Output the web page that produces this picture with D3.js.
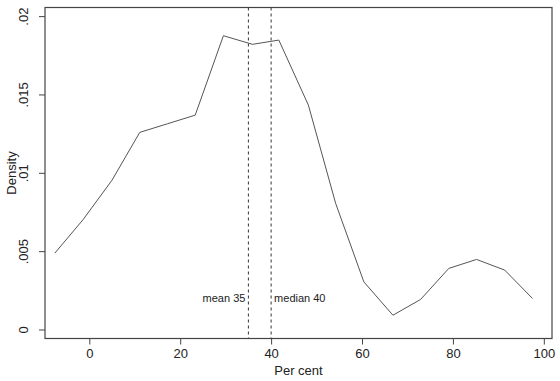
<!DOCTYPE html>
<html><head><meta charset="utf-8">
<script src="https://cdn.jsdelivr.net/npm/d3@7"></script>
<style>body{margin:0;background:#fff}svg{display:block}text{font-family:"Liberation Sans",Arial,sans-serif;fill:#222}</style>
</head><body><svg id="c" width="560" height="381"></svg>
<script>
const xValues = [-7.6, -1.4, 5.0, 11.1, 17.2, 23.3, 29.5, 35.9, 41.7, 48.2, 54.2, 60.4, 66.8, 72.9, 79.1, 85.2, 91.4, 97.5];
const densityValues = [0.00487, 0.0070, 0.00953, 0.01258, 0.01313, 0.01368, 0.01875, 0.0182, 0.01847, 0.01432, 0.00805, 0.00304, 0.00091, 0.00192, 0.0039, 0.00447, 0.00379, 0.00198];
const xTicks = [0, 20, 40, 60, 80, 100];
const yTicks = [0, 0.005, 0.01, 0.015, 0.02];
const yTickLabels = ["0", ".005", ".01", ".015", ".02"];
const refLines = [{value: 35, label: "mean 35", side: "left"}, {value: 40, label: "median 40", side: "right"}];

const svg = d3.select("#c");
const L = 45, R = 552, T = 7.5, B = 338.5;
const x = d3.scaleLinear().domain([-9.75, 101.8]).range([L, R]);
const y = d3.scaleLinear().domain([-0.000575, 0.02055]).range([B, T]);

// box
svg.append("rect").attr("x", L).attr("y", T).attr("width", R - L).attr("height", B - T)
  .attr("fill", "none").attr("stroke", "#444").attr("stroke-width", 1.2);

// x axis
const xa = svg.append("g").attr("transform", `translate(0,${B})`)
  .call(d3.axisBottom(x).tickValues(xTicks).tickSize(6).tickPadding(4).tickFormat(d3.format("d")));
xa.select(".domain").remove();
xa.selectAll("line").attr("stroke", "#444");
xa.selectAll("text").attr("font-size", 13).style("font-family", "Liberation Sans, Arial").attr("fill", "#222");

// y axis
const ya = svg.append("g").attr("transform", `translate(${L},0)`)
  .call(d3.axisLeft(y).tickValues(yTicks).tickSize(6).tickFormat((d, i) => yTickLabels[i]));
ya.select(".domain").remove();
ya.selectAll("line").attr("stroke", "#444");
ya.selectAll("text").attr("font-size", 13).attr("fill", "#222")
  .attr("text-anchor", "middle").attr("x", null).attr("dy", null)
  .attr("transform", "translate(-17,0) rotate(-90)");

// axis titles
svg.append("text").attr("x", (L + R) / 2).attr("y", 375).attr("text-anchor", "middle")
  .attr("font-size", 13).text("Per cent");
svg.append("text").attr("transform", `translate(16,${(T + B) / 2}) rotate(-90)`)
  .attr("text-anchor", "middle").attr("font-size", 13).text("Density");

// reference lines
refLines.forEach(r => {
  svg.append("line").attr("x1", x(r.value)).attr("x2", x(r.value)).attr("y1", T).attr("y2", B)
    .attr("stroke", "#333").attr("stroke-width", 1).attr("stroke-dasharray", "3,3");
  svg.append("text").attr("x", x(r.value) + (r.side === "left" ? -3 : 3)).attr("y", 302)
    .attr("text-anchor", r.side === "left" ? "end" : "start").attr("font-size", 11).text(r.label);
});

// density line
const data = xValues.map((v, i) => [v, densityValues[i]]);
svg.append("path").datum(data)
  .attr("d", d3.line().x(d => x(d[0])).y(d => y(d[1])))
  .attr("fill", "none").attr("stroke", "#555").attr("stroke-width", 1);
</script></body></html>
